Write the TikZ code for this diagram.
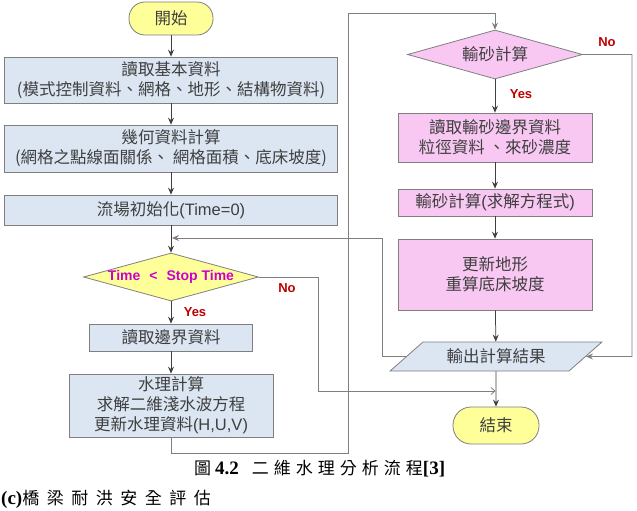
\documentclass[tikz,border=0pt]{standalone}
\usepackage{fontspec}
\setmainfont{Liberation Sans}
\newfontfamily\cjk{Noto Sans CJK TC}
\newfontfamily\lat{Liberation Sans}
\newfontfamily\capser{Liberation Serif}
\usetikzlibrary{shapes.geometric,arrows.meta}
\definecolor{boxblue}{HTML}{DCE6F2}
\definecolor{boxpink}{HTML}{F8C8F3}
\definecolor{boxyellow}{HTML}{FFFF99}
\definecolor{edgegray}{HTML}{7F7F7F}
\definecolor{txtgray}{HTML}{3F3F3F}
\definecolor{magtext}{HTML}{CC00CC}
\definecolor{rednote}{HTML}{C00000}
\begin{document}
\begin{tikzpicture}[x=1pt,y=-1pt,
  every node/.style={font=\cjk\fontsize{16.5}{20}\selectfont, text=txtgray, align=center, inner sep=0pt},
  bluebox/.style={draw=edgegray, fill=boxblue, line width=0.8pt, rectangle},
  pinkbox/.style={draw=edgegray, fill=boxpink, line width=0.8pt, rectangle},
  termbox/.style={draw=edgegray, fill=boxyellow, line width=0.8pt, rectangle},
  decbox/.style={draw=edgegray, line width=0.8pt, diamond},
  iobox/.style={draw=edgegray, fill=boxblue, line width=0.8pt, trapezium, trapezium stretches=true, trapezium left angle=34.6, trapezium right angle=145.4},
  conn/.style={draw=txtgray, line width=0.75pt, -{Stealth[length=7pt,width=6pt,inset=2.5pt]}},
  loopconn/.style={draw=edgegray, line width=0.75pt, -{Stealth[length=7pt,width=6pt,inset=2.5pt]}},
  openconn/.style={draw=edgegray, line width=0.75pt, -{Straight Barb[length=4pt,width=7pt]}},
  decision/.style={font=\lat\bfseries\fontsize{14}{16}\selectfont, text=magtext},
  yesno/.style={font=\lat\bfseries\fontsize{13}{14}\selectfont, text=rednote},
  captxt/.style={font=\cjk\fontsize{17}{20}\selectfont, text=black, anchor=west}
]
\useasboundingbox (0,0) rectangle (637,511);
\fill[white] (0,0) rectangle (637,511);

% left column
\node[termbox, rounded corners=16pt, minimum width=84pt, minimum height=33pt] (start) at (171,18.5) {開始};
\node[bluebox, minimum width=333pt, minimum height=46pt] (b1) at (171,80) {讀取基本資料\\(模式控制資料、網格、地形、結構物資料)};
\node[bluebox, minimum width=333pt, minimum height=47pt] (b2) at (171,148.5) {幾何資料計算\\(網格之點線面關係、 網格面積、底床坡度)};
\node[bluebox, minimum width=333pt, minimum height=30pt] (b3) at (171,210) {流場初始化{\lat (Time=0)}};
\node[decbox, fill=boxyellow, minimum width=175pt, minimum height=48pt] (d1) at (171,277) {};
\node[decision] (d1t) at (d1) {Time\hspace{9pt}<\hspace{9pt}Stop Time};
\node[bluebox, minimum width=163pt, minimum height=27pt] (b4) at (171,337.5) {讀取邊界資料};
\node[bluebox, minimum width=204pt, minimum height=63pt] (b5) at (171,405.5) {水理計算\\求解二維淺水波方程\\更新水理資料{\lat (H,U,V)}};

% right column
\node[decbox, fill=boxpink, minimum width=175pt, minimum height=49pt] (d2) at (495,54.5) {};
\node (d2t) at (d2) {輸砂計算};
\node[pinkbox, minimum width=194pt, minimum height=49pt] (r1) at (495,137.5) {讀取輸砂邊界資料\\粒徑資料 、來砂濃度};
\node[pinkbox, minimum width=194pt, minimum height=27pt] (r2) at (495,202.5) {輸砂計算{\lat (}求解方程式{\lat )}};
\node[pinkbox, minimum width=194pt, minimum height=71pt] (r3) at (495,274.5) {更新地形\\重算底床坡度};
\node[iobox, minimum width=212pt, minimum height=29pt] (out) at (496,356.5) {輸出計算結果};
\node[termbox, rounded corners=18pt, minimum width=86pt, minimum height=37pt] (end) at (496,425.5) {結束};

% labels
\node[yesno] (no1) at (287,288) {No};
\node[yesno] (yes1) at (195,312) {Yes};
\node[yesno] (yes2) at (521,94) {Yes};
\node[yesno] (no2) at (607,42) {No};

% main flow
\draw[conn] (start) -- (b1);
\draw[conn] (b1) -- (b2);
\draw[conn] (b2) -- (b3);
\draw[conn] (b3) -- (d1);
\draw[conn] (d1) -- (b4);
\draw[conn] (b4) -- (b5);
\draw[conn] (d2) -- (r1);
\draw[conn] (r1) -- (r2);
\draw[conn] (r2) -- (r3);
\draw[conn] (r3) -- (out);
\draw[conn] (out) -- (end);

% loops
\coordinate (lpA) at (348,453);
\coordinate (lpB) at (348,13);
\draw[loopconn] (b5.south) |- (lpA) -- (lpB) -| (d2.north);
\coordinate (lpC) at (382,238);
\coordinate (jn1) at (172,238);
\draw[loopconn] (out.west) -| (lpC) -- (jn1);
\coordinate (lpD) at (632,356.5);
\draw[loopconn] (d2.east) -| (lpD) -- (out.east);
\coordinate (lpE) at (318,391);
\coordinate (jn2) at (495.5,391);
\draw[openconn] (d1.east) -| (lpE) -- (jn2);

% caption
\node[captxt] (cap) at (194,469) {圖\hspace{4pt}{\capser\bfseries\fontsize{19}{20}\selectfont 4.2}\hspace{13pt}二\hspace{5pt}維\hspace{5pt}水\hspace{5pt}理\hspace{5pt}分\hspace{5pt}析\hspace{5pt}流\hspace{5pt}程{\capser\bfseries\fontsize{19}{20}\selectfont [3]}};
\node[captxt] (sub) at (1,499) {{\capser\bfseries\fontsize{19}{20}\selectfont (c)}橋\hspace{7.5pt}梁\hspace{7.5pt}耐\hspace{7.5pt}洪\hspace{7.5pt}安\hspace{7.5pt}全\hspace{7.5pt}評\hspace{7.5pt}估};
\end{tikzpicture}
\end{document}
